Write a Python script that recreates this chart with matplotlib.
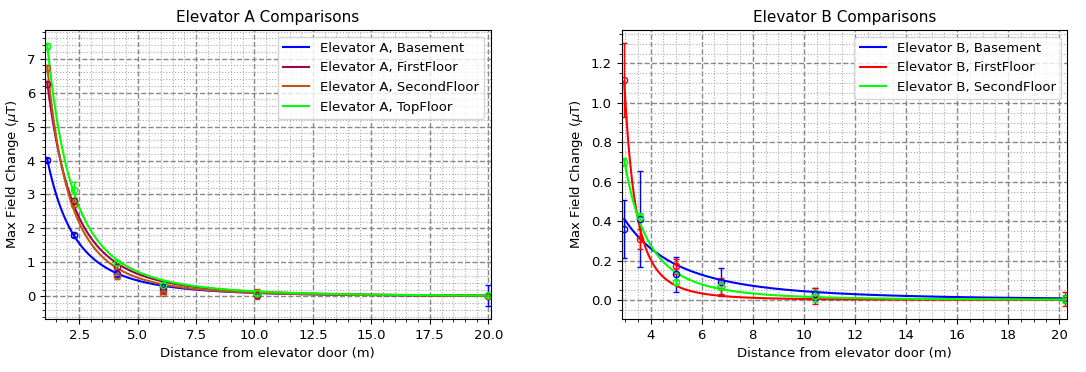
import matplotlib
matplotlib.use("Agg")
import matplotlib.pyplot as plt
import numpy as np
from matplotlib.ticker import AutoMinorLocator


# Elevator A measurements
dist_a = [1.14, 2.3, 4.12, 6.1, 10.1, 20.0]
a_basement = [4.02, 1.81, 0.65, 0.28, 0.03, 0.02]
a_basement_err = [0.05, 0.05, 0.05, 0.05, 0.05, 0.3]
a_first = [6.25, 2.82, 0.86, 0.2, 0.05, 0.02]
a_first_err = [0.08, 0.08, 0.08, 0.05, 0.05, 0.05]
a_second = [6.72, 2.72, 0.6, 0.11, 0.08, 0.02]
a_second_err = [0.08, 0.08, 0.08, 0.05, 0.15, 0.05]
a_top = [7.38, 3.12, 0.99, 0.33, 0.1, 0.03]
a_top_err = [0.08, 0.25, 0.08, 0.06, 0.05, 0.05]

# Elevator B measurements
dist_b = [2.97, 3.6, 5.0, 6.75, 10.42, 20.22]
b_basement = [0.36, 0.41, 0.13, 0.09, 0.03, 0.005]
b_basement_err = [0.145, 0.245, 0.09, 0.07, 0.03, 0.01]
b_first = [1.115, 0.31, 0.17, 0.07, 0.02, 0.005]
b_first_err = [0.188, 0.05, 0.04, 0.04, 0.04, 0.035]
b_second = [0.70, 0.42, 0.09, 0.07, 0.02, 0.005]
b_second_err = [0.02, 0.02, 0.01, 0.02, 0.03, 0.02]

labels_a = ["Elevator A, Basement", "Elevator A, FirstFloor",
            "Elevator A, SecondFloor", "Elevator A, TopFloor"]
labels_b = ["Elevator B, Basement", "Elevator B, FirstFloor",
            "Elevator B, SecondFloor"]
colors_a = ["#0000ff", "#a0004f", "#bf5512", "#00ff00"]
colors_b = ["#0000ff", "#ff0000", "#00ff00"]


# dipole fit y = k / (x + c)^3, plain least squares (grid over c)
def fit_curve(x, y):
    x = np.asarray(x)
    y = np.asarray(y)
    best = None
    for c in np.linspace(-x.min() + 0.2, 15, 4000):
        f = (x + c) ** -3.0
        k = np.sum(f * y) / np.sum(f * f)
        res = np.sum((y - k * f) ** 2)
        if best is None or res < best[0]:
            best = (res, k, c)
    return best[1], best[2]


def draw(ax, dist, series, errs, labels, colors, title):
    xs = np.linspace(min(dist), max(dist), 400)
    for y, e, lab, col in zip(series, errs, labels, colors):
        k, c = fit_curve(dist, y)
        ax.errorbar(dist, y, yerr=e, fmt="o", mfc="none", mec=col, ecolor=col,
                    ms=4.5, mew=1.0, elinewidth=1.0, capsize=2.5, capthick=1.0)
        ax.plot(xs, k / (xs + c) ** 3, color=col, lw=1.5, label=lab)
    ax.set_xlim(min(dist) - 0.1, max(dist) + 0.1)
    ax.set_title(title, fontsize=11)
    ax.set_xlabel("Distance from elevator door (m)", fontsize=9.5)
    ax.set_ylabel(r"Max Field Change ($\mu$T)", fontsize=9.5)
    ax.xaxis.set_minor_locator(AutoMinorLocator())
    ax.yaxis.set_minor_locator(AutoMinorLocator())
    ax.grid(which="major", linestyle="--", color="#888888", lw=1.0)
    ax.grid(which="minor", linestyle=":", color="#aaaaaa", lw=0.8)
    ax.set_axisbelow(True)
    ax.tick_params(labelsize=9.5)
    ax.legend(loc="upper right", fontsize=9.5)


fig = plt.figure(figsize=(10.86, 3.72), dpi=100)
ax1 = fig.add_axes([0.0414, 0.1425, 0.4104, 0.777])
ax2 = fig.add_axes([0.5725, 0.1425, 0.4104, 0.777])

draw(ax1, dist_a, [a_basement, a_first, a_second, a_top],
     [a_basement_err, a_first_err, a_second_err, a_top_err],
     labels_a, colors_a, "Elevator A Comparisons")
draw(ax2, dist_b, [b_basement, b_first, b_second],
     [b_basement_err, b_first_err, b_second_err],
     labels_b, colors_b, "Elevator B Comparisons")

fig.savefig("out.png", dpi=100)
